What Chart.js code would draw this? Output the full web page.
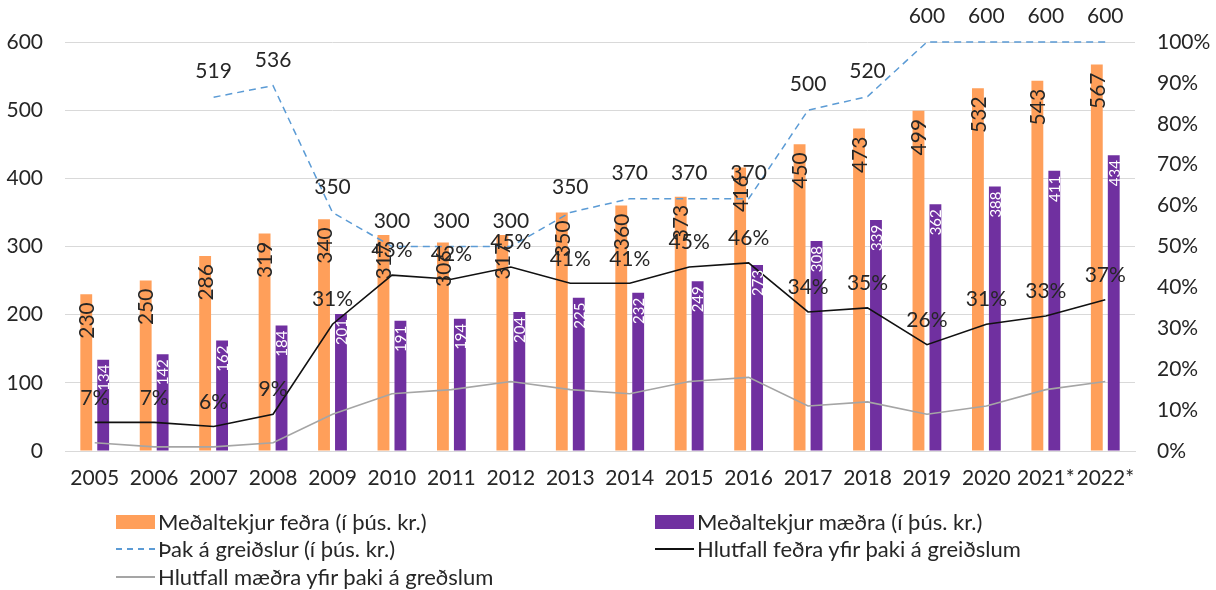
<!DOCTYPE html>
<html>
<head>
<meta charset="utf-8">
<script src="https://cdn.jsdelivr.net/npm/chart.js@4"></script>
<style>
  html, body { margin: 0; padding: 0; background: #fff; }
  #wrap { position: relative; width: 1216px; height: 590px; }
  #c { position: absolute; left: 0; top: 0; }
  .lg { position: absolute; font-family: Lato, "DejaVu Sans", sans-serif; font-size: 22px; color: #262626; white-space: nowrap; line-height: 24px; }
  .sym { position: absolute; }
</style>
</head>
<body>
<div id="wrap">
  <canvas id="c" width="1216" height="590"></canvas>
  <div id="legend"></div>
</div>
<script>
const categories = ['2005','2006','2007','2008','2009','2010','2011','2012','2013','2014','2015','2016','2017','2018','2019','2020','2021*','2022*'];
const fathersIncome = [230,250,286,319,340,317,306,317,350,360,373,416,450,473,499,532,543,567];
const mothersIncome = [134,142,162,184,201,191,194,204,225,232,249,273,308,339,362,388,411,434];
const paymentCap = [null,null,519,536,350,300,300,300,350,370,370,370,500,520,600,600,600,600];
const fathersShare = [7,7,6,9,31,43,42,45,41,41,45,46,34,35,26,31,33,37];
const mothersShare = [2,1,1,2,9,14,15,17,15,14,17,18,11,12,9,11,15,17];
const leftTicks = [0,100,200,300,400,500,600];
const rightTicks = [0,10,20,30,40,50,60,70,80,90,100];
const seriesNames = [
  'Meðaltekjur feðra (í þús. kr.)',
  'Meðaltekjur mæðra (í þús. kr.)',
  'Þak á greiðslur (í þús. kr.)',
  'Hlutfall feðra yfir þaki á greiðslum',
  'Hlutfall mæðra yfir þaki á greðslum'
];

const ORANGE = '#FF9F5A', PURPLE = '#7030A0', BLUE = '#5B9BD5', BLACK = '#111111', GRAY = '#A5A5A5';
const FONT = 'Lato, "DejaVu Sans", sans-serif';
const TXT = '#262626';

const labelPlugin = {
  id: 'labels',
  afterDatasetsDraw(chart) {
    const ctx = chart.ctx;
    ctx.save();
    chart.getDatasetMeta(0).data.forEach((bar, i) => {
      ctx.save();
      ctx.translate(bar.x, bar.y + 8);
      ctx.rotate(-Math.PI / 2);
      ctx.font = '21px ' + FONT;
      ctx.fillStyle = TXT;
      ctx.textAlign = 'right';
      ctx.textBaseline = 'middle';
      ctx.fillText(String(fathersIncome[i]), 0, 1);
      ctx.restore();
    });
    chart.getDatasetMeta(1).data.forEach((bar, i) => {
      ctx.save();
      ctx.translate(bar.x, bar.y + 5);
      ctx.rotate(-Math.PI / 2);
      ctx.font = '15px ' + FONT;
      ctx.fillStyle = '#ffffff';
      ctx.textAlign = 'right';
      ctx.textBaseline = 'middle';
      ctx.fillText(String(mothersIncome[i]), 0, 1);
      ctx.restore();
    });
    ctx.font = '21px ' + FONT;
    ctx.fillStyle = TXT;
    ctx.textAlign = 'center';
    ctx.textBaseline = 'bottom';
    chart.getDatasetMeta(2).data.forEach((pt, i) => {
      if (paymentCap[i] == null) return;
      ctx.fillText(String(paymentCap[i]), pt.x, pt.y - 15);
    });
    chart.getDatasetMeta(3).data.forEach((pt, i) => {
      ctx.fillText(fathersShare[i] + '%', pt.x, pt.y - 14);
    });
    ctx.restore();
  }
};

new Chart(document.getElementById('c'), {
  type: 'bar',
  data: {
    labels: categories,
    datasets: [
      { type: 'bar', label: seriesNames[0], data: fathersIncome, backgroundColor: ORANGE, yAxisID: 'y', order: 4, categoryPercentage: 0.57, barPercentage: 0.7 },
      { type: 'bar', label: seriesNames[1], data: mothersIncome, backgroundColor: PURPLE, yAxisID: 'y', order: 5, categoryPercentage: 0.57, barPercentage: 0.7 },
      { type: 'line', label: seriesNames[2], data: paymentCap, borderColor: BLUE, borderWidth: 1.5, borderDash: [7, 5], pointRadius: 0, yAxisID: 'y', order: 1, clip: false, spanGaps: false },
      { type: 'line', label: seriesNames[3], data: fathersShare, borderColor: BLACK, borderWidth: 1.6, pointRadius: 0, yAxisID: 'y1', order: 2, clip: false },
      { type: 'line', label: seriesNames[4], data: mothersShare, borderColor: GRAY, borderWidth: 1.6, pointRadius: 0, yAxisID: 'y1', order: 3, clip: false }
    ]
  },
  options: {
    responsive: false,
    animation: false,
    layout: { padding: { top: 42, left: 0, right: 0, bottom: 0 } },
    plugins: { legend: { display: false }, tooltip: { enabled: false } },
    scales: {
      x: {
        grid: { display: false, drawTicks: false },
        border: { color: '#D9D9D9', width: 1 },
        ticks: { color: TXT, font: { family: FONT, size: 21 }, padding: 15, maxRotation: 0, autoSkip: false },
        afterFit(s) { s.height = 139; }
      },
      y: {
        position: 'left', min: 0, max: 600,
        afterBuildTicks(s) { s.ticks = leftTicks.map(v => ({ value: v })); },
        grid: { color: '#D9D9D9', drawTicks: false },
        border: { display: false },
        ticks: { color: TXT, font: { family: FONT, size: 21 }, padding: 22 },
        afterFit(s) { s.width = 65; }
      },
      y1: {
        position: 'right', min: 0, max: 100,
        afterBuildTicks(s) { s.ticks = rightTicks.map(v => ({ value: v })); },
        grid: { display: false, drawTicks: false },
        border: { display: false },
        ticks: { color: TXT, font: { family: FONT, size: 21 }, padding: 22, callback: v => v + '%' },
        afterFit(s) { s.width = 81; }
      }
    }
  },
  plugins: [labelPlugin]
});

const legendItems = [
  { name: seriesNames[0], kind: 'box', color: ORANGE, x: 116, y: 522 },
  { name: seriesNames[1], kind: 'box', color: PURPLE, x: 655, y: 522 },
  { name: seriesNames[2], kind: 'dash', color: BLUE, x: 116, y: 549 },
  { name: seriesNames[3], kind: 'line', color: BLACK, x: 655, y: 549 },
  { name: seriesNames[4], kind: 'line', color: GRAY, x: 116, y: 577 }
];
const lg = document.getElementById('legend');
legendItems.forEach(it => {
  const sym = document.createElement('div');
  sym.className = 'sym';
  sym.style.left = it.x + 'px';
  if (it.kind === 'box') {
    sym.style.top = (it.y - 7) + 'px';
    sym.style.width = '39px'; sym.style.height = '14px';
    sym.style.background = it.color;
  } else if (it.kind === 'dash') {
    sym.style.top = (it.y - 1) + 'px';
    sym.style.width = '39px'; sym.style.height = '0px';
    sym.style.borderTop = '2px dashed ' + it.color;
  } else {
    sym.style.top = (it.y - 1) + 'px';
    sym.style.width = '39px'; sym.style.height = '2px';
    sym.style.background = it.color;
  }
  lg.appendChild(sym);
  const t = document.createElement('div');
  t.className = 'lg';
  t.style.left = (it.x + 42) + 'px';
  t.style.top = (it.y - 12) + 'px';
  t.textContent = it.name;
  lg.appendChild(t);
});
</script>
</body>
</html>
